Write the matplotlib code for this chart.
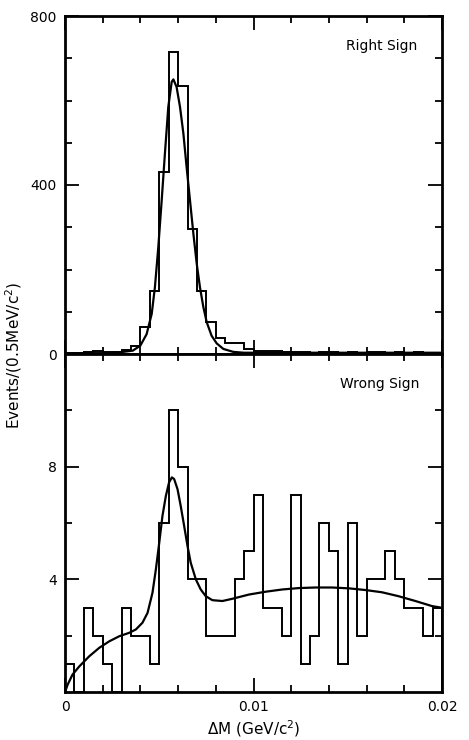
import numpy as np
import matplotlib
matplotlib.use('Agg')
import matplotlib.pyplot as plt
from matplotlib.ticker import MultipleLocator, FixedLocator

# 40 bins of 0.5 MeV from 0 to 0.02 GeV
bin_width = 0.0005
nbins = 40

# right sign histogram (events per bin)
right_counts = [2, 3, 5, 6, 4, 5, 10, 20, 65, 150,
                430, 715, 635, 295, 150, 75, 38, 25, 25, 12,
                8, 6, 8, 5, 4, 5, 3, 4, 5, 3,
                4, 3, 4, 5, 3, 4, 3, 5, 3, 2]
# wrong sign histogram
wrong_counts = [1, 0, 3, 2, 1, 0, 3, 2, 2, 1,
                6, 10, 8, 4, 4, 2, 2, 2, 4, 5,
                7, 3, 3, 2, 7, 1, 2, 6, 5, 1,
                6, 2, 4, 4, 5, 4, 3, 3, 2, 3]

# fitted curves
right_fit_x = [0.0, 0.001, 0.002, 0.0029, 0.0036, 0.0040, 0.00433, 0.0046, 0.00477,
               0.00495, 0.00513, 0.0053, 0.00548, 0.00566, 0.00575, 0.00592, 0.0061,
               0.00628, 0.00645, 0.00663, 0.00681, 0.00699, 0.00716, 0.00734, 0.00752,
               0.00778, 0.00805, 0.0084, 0.00893, 0.0095, 0.011, 0.013, 0.015, 0.017, 0.02]
right_fit_y = [1, 2, 2, 4, 8, 20, 47, 95, 158,
               253, 364, 474, 585, 644, 650, 632, 585,
               522, 443, 364, 285, 213, 158, 111, 75,
               43, 25, 12, 5, 3, 3, 3, 3, 3, 3]

wrong_fit_x = [0.0, 0.00014, 0.0004, 0.00076, 0.00129, 0.00182, 0.00235, 0.00288, 0.0034,
               0.00376, 0.00411, 0.00438, 0.00464, 0.00482, 0.005, 0.00517, 0.00535,
               0.00552, 0.00567, 0.00579, 0.00597, 0.00614, 0.00632, 0.0065, 0.00667,
               0.00694, 0.0072, 0.00747, 0.00782, 0.00835, 0.00888, 0.00976, 0.01064,
               0.01153, 0.01241, 0.01329, 0.01417, 0.01506, 0.01594, 0.01682, 0.0177,
               0.01859, 0.01947, 0.02]
wrong_fit_y = [0.0, 0.26, 0.62, 0.91, 1.27, 1.57, 1.8, 1.98, 2.1,
               2.22, 2.46, 2.81, 3.52, 4.35, 5.3, 6.25, 6.96,
               7.44, 7.62, 7.56, 7.2, 6.6, 5.9, 5.18, 4.59,
               4.0, 3.64, 3.4, 3.26, 3.23, 3.31, 3.46, 3.56,
               3.64, 3.69, 3.71, 3.71, 3.68, 3.62, 3.54, 3.4,
               3.23, 3.05, 2.99]

edges = np.arange(nbins + 1) * bin_width

fig = plt.figure(figsize=(4.69, 7.40), dpi=100)
ax1 = fig.add_axes([65/469, 1-354/740, 377/469, 338/740])
ax2 = fig.add_axes([65/469, 1-692/740, 377/469, 338/740])

for ax in (ax1, ax2):
    for s in ax.spines.values():
        s.set_linewidth(2.0)
    ax.set_xlim(0, 0.02)
    ax.xaxis.set_major_locator(FixedLocator([0, 0.01, 0.02]))
    ax.xaxis.set_minor_locator(MultipleLocator(0.002))
    ax.tick_params(which='both', direction='in', top=True, right=True,
                   width=1.3, labelsize=10, pad=6)
    ax.tick_params(which='major', length=10)
    ax.tick_params(which='minor', length=5)

# top panel
ax1.stairs(right_counts, edges, color='black', lw=1.4, baseline=None)
ax1.plot(right_fit_x, right_fit_y, color='black', lw=1.6)
ax1.set_ylim(0, 800)
ax1.yaxis.set_major_locator(FixedLocator([0, 400, 800]))
ax1.yaxis.set_minor_locator(MultipleLocator(100))
ax1.tick_params(axis='x', labelbottom=False)
ax1.text(0.935, 0.91, 'Right Sign', transform=ax1.transAxes, ha='right', va='center',
         fontsize=10)

# bottom panel
ax2.stairs(wrong_counts, edges, color='black', lw=1.4)
ax2.plot(wrong_fit_x, wrong_fit_y, color='black', lw=1.6)
ax2.set_ylim(0, 12)
ax2.yaxis.set_major_locator(FixedLocator([4, 8]))
ax2.yaxis.set_minor_locator(FixedLocator([2, 6, 10]))
ax2.set_xticklabels(['0', '0.01', '0.02'])
ax2.text(0.94, 0.91, 'Wrong Sign', transform=ax2.transAxes, ha='right', va='center',
         fontsize=10)
ax2.set_xlabel(r'$\Delta$M (GeV/c$^2$)', fontsize=11, labelpad=3)

fig.text(14/469, 1-355/740, r'Events/(0.5MeV/c$^2$)', rotation=90,
         ha='center', va='center', fontsize=11)

fig.savefig('out.png', dpi=100)
